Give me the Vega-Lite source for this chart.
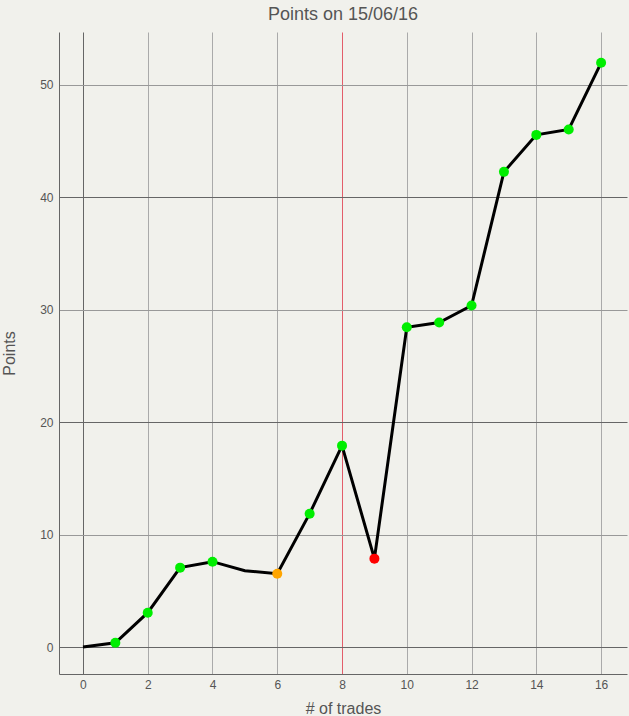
{
  "$schema": "https://vega.github.io/schema/vega-lite/v6.json",
  "width": 568,
  "height": 642,
  "autosize": {"type": "none"},
  "padding": {"left": 59, "top": 32, "right": 2, "bottom": 42},
  "background": "#f1f1ec",
  "config": {
    "view": {"stroke": null},
    "font": "Liberation Sans",
    "axis": {"labelFont": "Liberation Sans", "titleFont": "Liberation Sans", "labelColor": "#555", "titleColor": "#555", "titleFontWeight": "normal", "domainColor": "#666", "ticks": false}
  },
  "title": {"text": "Points on 15/06/16", "fontSize": 18, "fontWeight": "normal", "color": "#555", "font": "Liberation Sans", "offset": 8, "anchor": "middle"},
  "data": {
    "values": [
      {"trade": 0, "points": 0, "result": null},
      {"trade": 1, "points": 0.38, "result": "win"},
      {"trade": 2, "points": 3.05, "result": "win"},
      {"trade": 3, "points": 7.06, "result": "win"},
      {"trade": 4, "points": 7.59, "result": "win"},
      {"trade": 5, "points": 6.79, "result": null},
      {"trade": 6, "points": 6.52, "result": "flat"},
      {"trade": 7, "points": 11.86, "result": "win"},
      {"trade": 8, "points": 17.91, "result": "win"},
      {"trade": 9, "points": 7.86, "result": "loss"},
      {"trade": 10, "points": 28.44, "result": "win"},
      {"trade": 11, "points": 28.86, "result": "win"},
      {"trade": 12, "points": 30.37, "result": "win"},
      {"trade": 13, "points": 42.26, "result": "win"},
      {"trade": 14, "points": 45.55, "result": "win"},
      {"trade": 15, "points": 46.03, "result": "win"},
      {"trade": 16, "points": 51.96, "result": "win"}
    ]
  },
  "encoding": {
    "x": {
      "field": "trade", "type": "quantitative",
      "scale": {"domain": [-0.74, 16.8], "nice": false, "zero": false},
      "axis": {
        "title": "# of trades", "titleFontSize": 16, "titlePadding": 10,
        "values": [0, 2, 4, 6, 8, 10, 12, 14, 16],
        "labelFontSize": 12, "labelPadding": 5,
        "grid": true,
        "gridColor": {"condition": [{"test": "datum.value === 0", "value": "#666"}, {"test": "datum.value === 8", "value": "#e35d6a"}], "value": "#aaa"},
        "gridOpacity": 1
      }
    },
    "y": {
      "field": "points", "type": "quantitative",
      "scale": {"domain": [-2.4, 54.7], "nice": false, "zero": false},
      "axis": {
        "title": "Points", "titleFontSize": 16, "titlePadding": 22,
        "values": [0, 10, 20, 30, 40, 50],
        "labelFontSize": 12, "labelPadding": 6,
        "grid": true,
        "gridColor": {"condition": {"test": "datum.value % 20 === 0", "value": "#666"}, "value": "#999"},
        "gridOpacity": 1
      }
    }
  },
  "layer": [
    {"mark": {"type": "line", "color": "#000", "strokeWidth": 3}},
    {
      "transform": [{"filter": "datum.result != null"}],
      "mark": {"type": "point", "filled": true, "size": 100, "opacity": 1},
      "encoding": {
        "color": {"field": "result", "type": "nominal", "scale": {"domain": ["win", "flat", "loss"], "range": ["#00ee00", "#ffa500", "#ff0000"]}, "legend": null}
      }
    }
  ]
}
